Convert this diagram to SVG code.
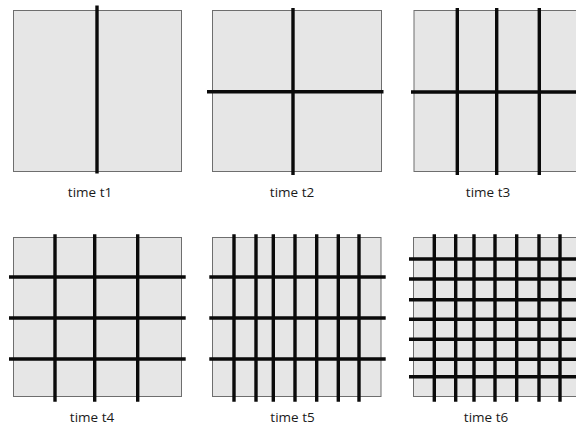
<svg xmlns="http://www.w3.org/2000/svg" width="576" height="427" viewBox="0 0 576 427">
<style>
.box{fill:#e6e6e6;stroke:#6e6e6e;stroke-width:1}
.ln{stroke:#0a0a0a;stroke-width:3.4;fill:none}
.lbl{font-family:"Open Sans","Noto Sans",sans-serif;font-size:13.5px;fill:#1a1a1a;text-anchor:middle}
</style>
<rect width="576" height="427" fill="#fff"/>
<g id="panel-t1">
<rect class="box" x="13.5" y="10.5" width="168" height="161"/>
<path class="ln" d="M97 5.5V173.5"/>
<text class="lbl" x="90" y="197">time t1</text>
</g>
<g id="panel-t2">
<rect class="box" x="212.5" y="10.5" width="169" height="161"/>
<path class="ln" d="M293 8V175M207 91.7H383.5"/>
<text class="lbl" x="292" y="197">time t2</text>
</g>
<g id="panel-t3">
<rect class="box" x="414" y="10.5" width="170" height="161"/>
<path class="ln" d="M457.3 8V175M496.7 8V175M539.3 8V175M411 92H580"/>
<text class="lbl" x="488" y="197">time t3</text>
</g>
<g id="panel-t4">
<rect class="box" x="13.5" y="237.5" width="168" height="159"/>
<path class="ln" d="M55 234.3V401.7M94.7 234.3V401.7M137.7 234.3V401.7M9 277H185.7M9 318H185.7M9 359H185.7"/>
<text class="lbl" x="92" y="422">time t4</text>
</g>
<g id="panel-t5">
<rect class="box" x="212.5" y="237.5" width="168.5" height="159"/>
<path class="ln" d="M234 234.3V401.7M256 234.3V401.7M273.3 234.3V401.7M295 234.3V401.7M316.7 234.3V401.7M338.3 234.3V401.7M359 234.3V401.7M209.3 277H385.7M209.3 318H385.7M209.3 359H385.7"/>
<text class="lbl" x="292.5" y="422">time t5</text>
</g>
<g id="panel-t6">
<rect class="box" x="413.5" y="237.5" width="170" height="159"/>
<path class="ln" d="M434.3 234.3V401.7M455.7 234.3V401.7M474 234.3V401.7M495 234.3V401.7M516.7 234.3V401.7M539 234.3V401.7M560 234.3V401.7M409 259H580M409 279H580M409 299.7H580M409 319.3H580M409 339.3H580M409 359.3H580M409 376.7H580"/>
<text class="lbl" x="486" y="422">time t6</text>
</g>
</svg>
